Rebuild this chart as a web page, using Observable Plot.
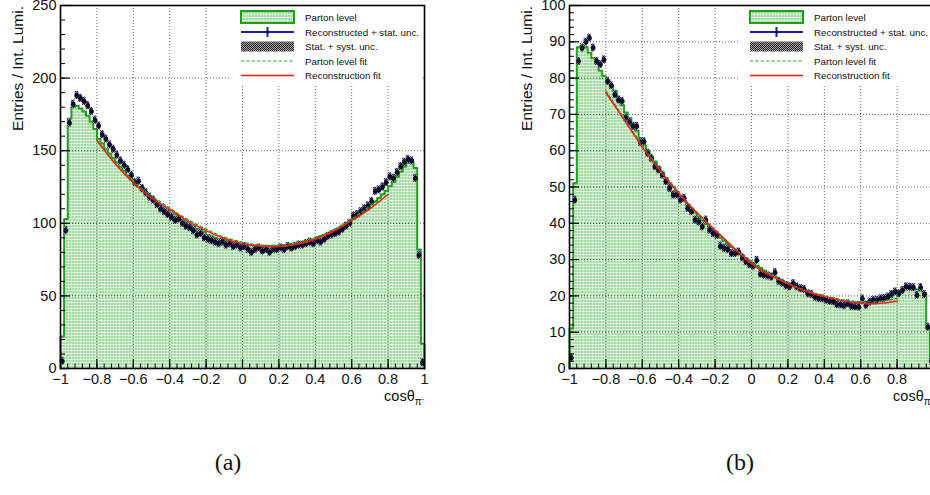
<!DOCTYPE html>
<html>
<head>
<meta charset="utf-8">
<script src="https://cdn.jsdelivr.net/npm/d3@7"></script>
<script src="https://cdn.jsdelivr.net/npm/@observablehq/plot@0.6"></script>
<style>
  html, body { margin: 0; padding: 0; background: #fff; }
  body { width: 930px; height: 495px; overflow: hidden; position: relative; font-family: "Liberation Sans", Arial, sans-serif; }
  .panel { position: absolute; top: 0; width: 440px; height: 410px; }
  .panel svg { max-width: none !important; }
  .cap { position: absolute; top: 449px; font-family: "Liberation Serif", "DejaVu Serif", serif; font-size: 24px; color: #111; transform: translateX(-50%); }
</style>
</head>
<body>
<svg width="0" height="0" style="position:absolute">
  <defs>
    <pattern id="hatch" patternUnits="userSpaceOnUse" width="3" height="3">
      <rect width="3" height="3" fill="#a3dba3"></rect>
      <rect x="0" y="2" width="3" height="1" fill="#ffffff" fill-opacity="0.6"></rect>
      <rect x="2" y="0" width="1" height="3" fill="#ffffff" fill-opacity="0.35"></rect>
    </pattern>
    <pattern id="syst" patternUnits="userSpaceOnUse" width="2" height="2">
      <rect width="2" height="2" fill="#a0a0a0"></rect>
      <rect x="0" y="0" width="1" height="1" fill="#2a2a2a"></rect>
      <rect x="1" y="1" width="1" height="1" fill="#2a2a2a"></rect>
    </pattern>
  </defs>
</svg>
<div id="pa" class="panel" style="left:0px"></div>
<div id="pb" class="panel" style="left:509px"></div>
<div class="cap" style="left:228px">(a)</div>
<div class="cap" style="left:740px">(b)</div>
<script>
// ---------- data (100 bins of width 0.02 on [-1, 1]) ----------
const partonA = [
  22, 103, 172, 180, 181, 179, 177, 174, 170, 165,
  158, 155, 151, 148, 145, 142, 139, 136, 133, 130,
  127, 125, 122, 120, 118, 116, 114, 112, 110, 109,
  107, 106, 104, 102, 101, 99, 98, 96, 95, 94,
  92, 91, 90, 89, 89, 88, 87, 87, 86, 86,
  85, 85, 85, 84, 84, 84, 84, 84, 84, 84,
  85, 85, 85, 86, 86, 87, 87, 88, 89, 89,
  90, 91, 92, 93, 94, 95, 96, 97, 99, 101,
  103, 104.5, 106.5, 108.5, 110.5, 113, 115, 117.5, 120, 122.5,
  125.5, 128.5, 132, 135.5, 139, 141.5, 142, 138, 82, 17
];
const recoA = [
  5, 95, 169, 182, 188, 186, 184, 181, 177, 171,
  167, 161, 158, 154, 151, 147, 143, 140, 137, 133,
  128, 129, 124, 121, 118, 116, 113, 110, 108, 106,
  104, 102, 103, 100, 98, 97, 95, 92, 93, 90,
  89, 88, 87, 86, 87, 85, 86, 84, 85, 83,
  84, 82, 80, 82, 83, 81, 82, 80, 82, 82,
  83, 82, 84, 83, 84, 85, 85, 86, 87, 86,
  88, 87, 89, 91, 92, 93, 94, 96, 98, 100,
  105, 106, 108, 110, 112, 115, 122, 123, 125, 128,
  132, 131, 135, 139, 142, 144, 143, 131, 78, 4
];
const partonB = [
  11, 51, 88.5, 88.8, 88.5, 87, 85.5, 84, 82, 80.5,
  79.5, 78, 76.5, 74.5, 72.5, 70.5, 69, 67.5, 65.5, 63.5,
  61.5, 60, 58.5, 57, 55.5, 54, 52.5, 51, 50, 48.7,
  47.5, 46.3, 45.2, 44, 43, 41.8, 40.8, 39.8, 38.8, 37.9,
  37, 36, 35.2, 34.3, 33.5, 32.7, 32, 31.2, 30.4, 29.7,
  29, 28.3, 27.7, 27, 26.4, 25.8, 25.2, 24.6, 24.1, 23.6,
  23.1, 22.6, 22.1, 21.7, 21.3, 20.9, 20.5, 20.2, 19.9, 19.6,
  19.3, 19.1, 18.9, 18.7, 18.5, 18.4, 18.3, 18.2, 18.2, 18.2,
  18.3, 18.4, 18.6, 18.8, 19.1, 19.4, 19.8, 20.2, 20.6, 21.0,
  21.3, 21.6, 21.8, 21.9, 21.9, 21.8, 21.5, 20.8, 11, 2
];
const recoB = [
  2.9, 46.4, 84.6, 88.3, 89.9, 91.0, 88.3, 84.6, 83.7, 85.0,
  79.1, 77.9, 75.4, 74.0, 73.6, 69.0, 67.8, 66.7, 66.7, 62.2,
  62.5, 59.3, 57.9, 55.6, 54.7, 53.3, 51.5, 49.6, 47.8, 47.8,
  46.4, 46.9, 44.1, 43.2, 40.9, 40.4, 39.0, 40.9, 38.1, 37.2,
  36.7, 33.7, 33.1, 32.8, 31.7, 31.7, 32.1, 30.5, 29.4, 28.6,
  28.2, 29.8, 26.0, 25.7, 25.5, 25.2, 26.4, 24.0, 23.5, 22.8,
  22.5, 23.4, 22.5, 22.0, 21.8, 20.6, 20.4, 19.6, 19.3, 19.2,
  18.8, 18.5, 18.4, 17.6, 17.5, 17.3, 17.8, 17.1, 17.0, 16.9,
  19.2, 17.4, 18.3, 18.8, 18.8, 19.2, 19.3, 19.7, 20.4, 21.1,
  20.6, 21.5, 22.5, 22.4, 22.3, 20.2, 22.3, 20.4, 11.4, 2.0
];
const fitX = [-0.8, -0.7, -0.6, -0.5, -0.4, -0.3, -0.2, -0.1, 0, 0.1, 0.2, 0.3, 0.4, 0.5, 0.6, 0.7, 0.8];
const fitRecoA   = [157, 141, 128, 117.5, 109.5, 101.5, 95, 89.5, 86, 84.3, 84, 85.5, 89, 94.5, 102, 110, 120];
const fitPartonA = [157, 142, 129, 119, 110.5, 102.5, 96, 90.5, 87, 85, 85, 86.5, 90, 95.5, 103, 112, 123];
const fitRecoB   = [76, 68.5, 61, 54.3, 48.3, 42.9, 38.1, 33.3, 28.9, 25.7, 23.3, 21.3, 19.8, 18.7, 18.0, 17.9, 18.6];
const fitPartonB = [76.5, 69, 61.5, 54.6, 48.5, 43, 38.2, 33.5, 29.2, 26, 23.5, 21.5, 20, 19, 18.4, 18.5, 19.3];
const systA = 2.8, statA = 2.2;
const systB = 1.1, statB = 0.9;

const xTicks = [-1, -0.8, -0.6, -0.4, -0.2, 0, 0.2, 0.4, 0.6, 0.8, 1];
const yTicksA = [0, 50, 100, 150, 200, 250];
const yTicksB = [0, 10, 20, 30, 40, 50, 60, 70, 80, 90, 100];
const legendLabels = ["Parton level", "Reconstructed + stat. unc.", "Stat. + syst. unc.", "Parton level fit", "Reconstruction fit"];
const yTitle = "Entries / Int. Lumi.";

// ---------- helpers ----------
const W = 440, H = 410, mL = 60, mR = 16, mT = 5, mB = 42;
const pw = W - mL - mR, ph = H - mT - mB;
const binW = 0.02;
const GREEN = "#1f9e1f", BLUE = "#1c1cb0", RED = "#ff1a1a";
const fmt = d3.format("~g");

function stepRows(vals) {
  const rows = [{x: -1, y: 0}];
  vals.forEach((v, i) => rows.push({x: -1 + i * binW, y: v}));
  rows.push({x: 1, y: vals[vals.length - 1]});
  rows.push({x: 1, y: 0});
  return rows;
}
function pointRows(vals) {
  return vals.map((v, i) => ({c: -1 + (i + 0.5) * binW, v}));
}
function fitRows(ys) { return fitX.map((x, i) => ({x, y: ys[i]})); }

function overlay() {
  return () => {
    const g = d3.create("svg:g").attr("text-anchor", "start");
    // legend box (hides grid)
    g.append("rect").attr("x", 230).attr("y", mT + 1).attr("width", mL + pw - 231).attr("height", 78).attr("fill", "white");
    const sx0 = 241, sx1 = 294, tx = 305;
    const ys = [17, 32, 46.5, 61, 75.5];
    g.append("rect").attr("x", sx0).attr("y", ys[0] - 6).attr("width", sx1 - sx0).attr("height", 12)
      .attr("fill", "url(#hatch)").attr("stroke", GREEN).attr("stroke-width", 2);
    g.append("line").attr("x1", sx0).attr("x2", sx1).attr("y1", ys[1]).attr("y2", ys[1]).attr("stroke", BLUE).attr("stroke-width", 2);
    g.append("line").attr("x1", (sx0 + sx1) / 2).attr("x2", (sx0 + sx1) / 2).attr("y1", ys[1] - 5).attr("y2", ys[1] + 5).attr("stroke", BLUE).attr("stroke-width", 2);
    g.append("circle").attr("cx", (sx0 + sx1) / 2).attr("cy", ys[1]).attr("r", 1.6).attr("fill", "#111");
    g.append("rect").attr("x", sx0).attr("y", ys[2] - 5).attr("width", sx1 - sx0).attr("height", 10).attr("fill", "url(#syst)");
    g.append("line").attr("x1", sx0).attr("x2", sx1).attr("y1", ys[3]).attr("y2", ys[3]).attr("stroke", GREEN).attr("stroke-width", 1.2).attr("stroke-dasharray", "3,2.4");
    g.append("line").attr("x1", sx0).attr("x2", sx1).attr("y1", ys[4]).attr("y2", ys[4]).attr("stroke", RED).attr("stroke-width", 1.6);
    legendLabels.forEach((t, i) => {
      g.append("text").attr("x", tx).attr("y", ys[i]).attr("dy", "0.36em").attr("text-anchor", "start")
        .attr("font-size", 9.8).attr("fill", "#111").text(t);
    });
    // y title
    g.append("text").attr("transform", `translate(18,${mT + 1}) rotate(-90)`).attr("text-anchor", "end").attr("dy", "0.35em")
      .attr("font-size", 15.5).attr("fill", "#111").text(yTitle);
    // x title
    const xt = g.append("text").attr("x", mL + pw).attr("y", mT + ph + 33).attr("text-anchor", "end").attr("font-size", 14.5).attr("fill", "#111");
    xt.append("tspan").text("cosθ");
    xt.append("tspan").attr("dy", 4).attr("font-size", 10).text("π");
    xt.append("tspan").attr("dy", -4).attr("font-size", 7).text("-");
    return g.node();
  };
}

function panel(parton, reco, fitP, fitR, yMax, yTicks, yMinorStep, syst, stat) {
  const hist = stepRows(parton);
  const pts = pointRows(reco);
  const xMinor = d3.range(0, 51).map(i => -1 + i * 0.04);
  const yMinor = d3.range(0, yMax + 1e-9, yMinorStep);
  const xGrid = xTicks.filter(d => d > -1 && d < 1);
  const yGrid = yTicks.filter(d => d > 0 && d < yMax);
  return Plot.plot({
    width: W, height: H, marginLeft: mL, marginRight: mR, marginTop: mT, marginBottom: mB,
    x: {domain: [-1, 1]},
    y: {domain: [0, yMax]},
    style: {fontFamily: "Liberation Sans, Arial, sans-serif", fontSize: "14.5px", background: "white", overflow: "visible", color: "#111", maxWidth: "none"},
    marks: [
      Plot.areaY(hist, {x: "x", y: "y", curve: "step-after", fill: "url(#hatch)"}),
      Plot.ruleX(xGrid, {x: d => d, stroke: "#000", strokeWidth: 0.8, strokeDasharray: "1,2", strokeOpacity: 0.75}),
      Plot.ruleY(yGrid, {y: d => d, stroke: "#000", strokeWidth: 0.8, strokeDasharray: "1,2", strokeOpacity: 0.75}),
      Plot.line(hist, {x: "x", y: "y", curve: "step-after", stroke: GREEN, strokeWidth: 2}),
      Plot.rect(pts, {x1: d => d.c - binW / 2, x2: d => d.c + binW / 2, y1: d => Math.max(0, d.v - syst), y2: d => d.v + syst, fill: "url(#syst)"}),
      Plot.ruleY(pts, {y: "v", x1: d => d.c - binW / 2, x2: d => d.c + binW / 2, stroke: BLUE, strokeWidth: 1.3}),
      Plot.ruleX(pts, {x: "c", y1: d => Math.max(0, d.v - stat), y2: d => d.v + stat, stroke: BLUE, strokeWidth: 1.5}),
      Plot.dot(pts, {x: "c", y: "v", r: 2.4, fill: "#0a0a22", stroke: "none"}),
      Plot.line(fitRows(fitP), {x: "x", y: "y", curve: "natural", stroke: GREEN, strokeWidth: 1.2, strokeDasharray: "3,2.4"}),
      Plot.line(fitRows(fitR), {x: "x", y: "y", curve: "natural", stroke: RED, strokeWidth: 1.5}),
      overlay(),
      Plot.ruleX(xMinor, {x: d => d, insetTop: ph - 4.5, stroke: "#000", strokeWidth: 1}),
      Plot.ruleX(xTicks, {x: d => d, insetTop: ph - 9, stroke: "#000", strokeWidth: 1.2}),
      Plot.ruleY(yMinor, {y: d => d, insetRight: pw - 5, stroke: "#000", strokeWidth: 1}),
      Plot.ruleY(yTicks, {y: d => d, insetRight: pw - 10, stroke: "#000", strokeWidth: 1.2}),
      Plot.axisX({ticks: xTicks, tickSize: 0, tickPadding: 5, tickFormat: fmt, label: null}),
      Plot.axisY({ticks: yTicks, tickSize: 0, tickPadding: 4, tickFormat: d => String(d), label: null}),
      Plot.frame({stroke: "#000", strokeWidth: 1.6})
    ]
  });
}

document.getElementById("pa").append(panel(partonA, recoA, fitPartonA, fitRecoA, 250, yTicksA, 10, systA, statA));
document.getElementById("pb").append(panel(partonB, recoB, fitPartonB, fitRecoB, 100, yTicksB, 2, systB, statB));
</script>
</body>
</html>
